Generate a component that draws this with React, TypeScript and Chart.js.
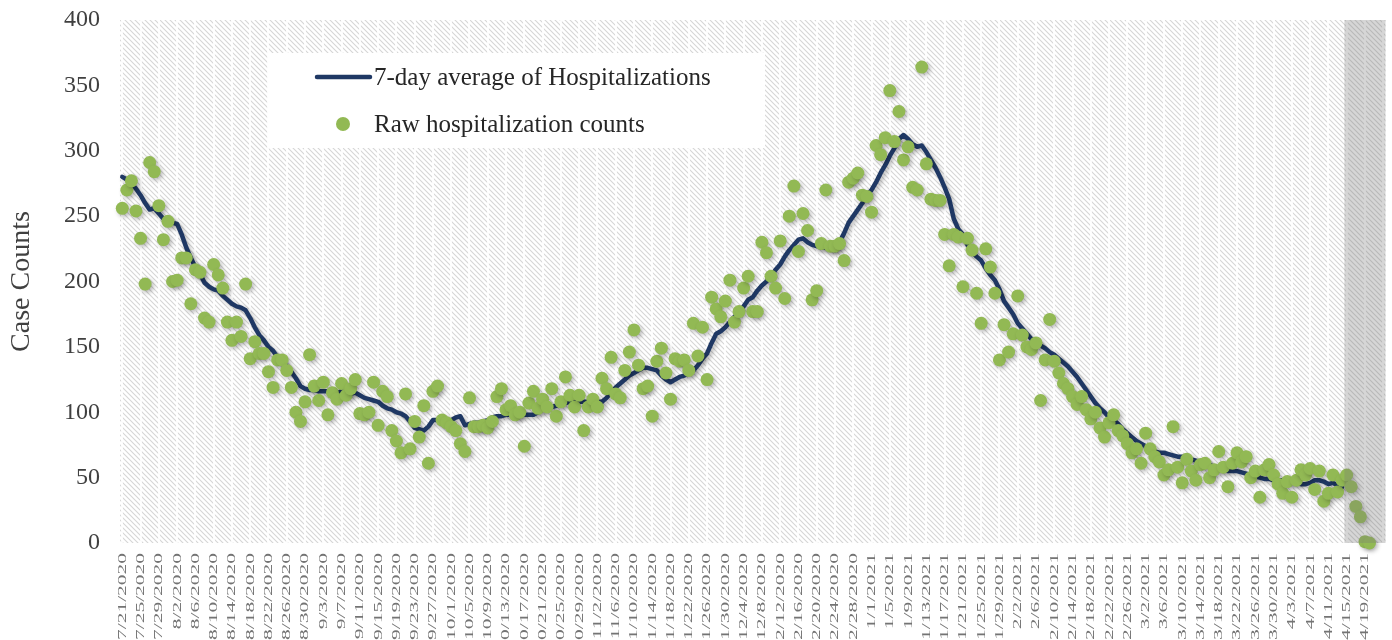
import React, { useEffect, useRef } from 'react';
import { Chart, registerables } from 'chart.js';

Chart.register(...registerables);

const categories: string[] = [
  '7/21/2020','7/22/2020','7/23/2020','7/24/2020','7/25/2020','7/26/2020','7/27/2020','7/28/2020','7/29/2020','7/30/2020','7/31/2020',
  '8/1/2020','8/2/2020','8/3/2020','8/4/2020','8/5/2020','8/6/2020','8/7/2020','8/8/2020','8/9/2020','8/10/2020','8/11/2020','8/12/2020','8/13/2020','8/14/2020','8/15/2020','8/16/2020','8/17/2020','8/18/2020','8/19/2020','8/20/2020','8/21/2020','8/22/2020','8/23/2020','8/24/2020','8/25/2020','8/26/2020','8/27/2020','8/28/2020','8/29/2020','8/30/2020','8/31/2020',
  '9/1/2020','9/2/2020','9/3/2020','9/4/2020','9/5/2020','9/6/2020','9/7/2020','9/8/2020','9/9/2020','9/10/2020','9/11/2020','9/12/2020','9/13/2020','9/14/2020','9/15/2020','9/16/2020','9/17/2020','9/18/2020','9/19/2020','9/20/2020','9/21/2020','9/22/2020','9/23/2020','9/24/2020','9/25/2020','9/26/2020','9/27/2020','9/28/2020','9/29/2020','9/30/2020',
  '10/1/2020','10/2/2020','10/3/2020','10/4/2020','10/5/2020','10/6/2020','10/7/2020','10/8/2020','10/9/2020','10/10/2020','10/11/2020','10/12/2020','10/13/2020','10/14/2020','10/15/2020','10/16/2020','10/17/2020','10/18/2020','10/19/2020','10/20/2020','10/21/2020','10/22/2020','10/23/2020','10/24/2020','10/25/2020','10/26/2020','10/27/2020','10/28/2020','10/29/2020','10/30/2020','10/31/2020',
  '11/1/2020','11/2/2020','11/3/2020','11/4/2020','11/5/2020','11/6/2020','11/7/2020','11/8/2020','11/9/2020','11/10/2020','11/11/2020','11/12/2020','11/13/2020','11/14/2020','11/15/2020','11/16/2020','11/17/2020','11/18/2020','11/19/2020','11/20/2020','11/21/2020','11/22/2020','11/23/2020','11/24/2020','11/25/2020','11/26/2020','11/27/2020','11/28/2020','11/29/2020','11/30/2020',
  '12/1/2020','12/2/2020','12/3/2020','12/4/2020','12/5/2020','12/6/2020','12/7/2020','12/8/2020','12/9/2020','12/10/2020','12/11/2020','12/12/2020','12/13/2020','12/14/2020','12/15/2020','12/16/2020','12/17/2020','12/18/2020','12/19/2020','12/20/2020','12/21/2020','12/22/2020','12/23/2020','12/24/2020','12/25/2020','12/26/2020','12/27/2020','12/28/2020','12/29/2020','12/30/2020','12/31/2020',
  '1/1/2021','1/2/2021','1/3/2021','1/4/2021','1/5/2021','1/6/2021','1/7/2021','1/8/2021','1/9/2021','1/10/2021','1/11/2021','1/12/2021','1/13/2021','1/14/2021','1/15/2021','1/16/2021','1/17/2021','1/18/2021','1/19/2021','1/20/2021','1/21/2021','1/22/2021','1/23/2021','1/24/2021','1/25/2021','1/26/2021','1/27/2021','1/28/2021','1/29/2021','1/30/2021','1/31/2021',
  '2/1/2021','2/2/2021','2/3/2021','2/4/2021','2/5/2021','2/6/2021','2/7/2021','2/8/2021','2/9/2021','2/10/2021','2/11/2021','2/12/2021','2/13/2021','2/14/2021','2/15/2021','2/16/2021','2/17/2021','2/18/2021','2/19/2021','2/20/2021','2/21/2021','2/22/2021','2/23/2021','2/24/2021','2/25/2021','2/26/2021','2/27/2021','2/28/2021',
  '3/1/2021','3/2/2021','3/3/2021','3/4/2021','3/5/2021','3/6/2021','3/7/2021','3/8/2021','3/9/2021','3/10/2021','3/11/2021','3/12/2021','3/13/2021','3/14/2021','3/15/2021','3/16/2021','3/17/2021','3/18/2021','3/19/2021','3/20/2021','3/21/2021','3/22/2021','3/23/2021','3/24/2021','3/25/2021','3/26/2021','3/27/2021','3/28/2021','3/29/2021','3/30/2021','3/31/2021',
  '4/1/2021','4/2/2021','4/3/2021','4/4/2021','4/5/2021','4/6/2021','4/7/2021','4/8/2021','4/9/2021','4/10/2021','4/11/2021','4/12/2021','4/13/2021','4/14/2021','4/15/2021','4/16/2021','4/17/2021','4/18/2021','4/19/2021','4/20/2021','4/21/2021','4/22/2021','4/23/2021'
];

// Raw hospitalization counts (7/21/2020 .. 4/20/2021)
const rawCounts: number[] = [
  256,270,277,254,233,198,291,284,258,232,
  246,200,201,218,218,183,209,207,172,169,
  213,205,195,169,155,169,158,198,141,154,
  145,145,131,119,140,140,132,119,100,93,
  108,144,120,109,123,98,115,110,122,113,
  118,125,99,98,100,123,90,116,112,86,
  78,69,114,72,93,81,105,61,116,120,
  94,92,89,86,76,70,111,89,89,90,
  88,93,112,118,102,105,98,100,74,107,
  116,103,110,104,118,97,108,127,113,104,
  113,86,104,110,104,126,118,142,114,111,
  132,146,163,136,118,120,97,139,149,130,
  110,141,139,140,132,168,143,165,125,188,
  179,173,185,201,169,177,195,204,177,177,
  230,222,204,195,231,187,250,273,223,252,
  239,186,193,229,270,227,227,229,216,276,
  279,283,266,265,253,304,297,310,346,307,
  330,293,303,272,270,364,290,263,262,262,
  236,212,236,234,196,233,224,191,168,225,
  211,191,140,167,146,160,189,159,150,148,
  153,109,140,171,139,130,122,118,112,106,
  112,102,95,100,88,81,92,98,86,82,
  76,69,72,61,84,72,66,62,52,56,
  89,58,46,64,55,48,60,61,50,56,
  70,58,43,61,69,62,66,50,55,35,
  56,60,52,45,38,47,35,48,56,52,
  57,41,55,32,38,52,39,48,52,43,
  28,20,1,0
];

// 7-day average of hospitalizations (7/21/2020 .. 4/14/2021)
const avg7Day: number[] = [
  280,278,275,271,266,260,255,256,252,248,
  246,245,244,236,226,218,211,206,199,196,
  194,193,189,186,183,181,180,178,172,165,
  159,155,150,147,142,139,135,131,126,120,
  118,117,117,116,116,116,116,115,116,115,
  114,115,113,111,110,109,108,105,103,102,
  100,99,97,93,88,87,86,89,94,94,
  93,93,94,96,97,90,91,92,92,93,
  94,96,97,97,98,98,98,98,98,98,
  98,100,102,103,104,105,106,107,108,108,
  108,108,108,108,108,108,111,115,119,122,
  125,128,130,132,134,134,133,132,128,125,
  123,125,127,128,130,132,136,141,145,153,
  160,162,165,169,173,176,181,186,188,193,
  197,200,204,209,213,219,224,228,232,233,
  230,228,227,226,226,225,224,230,237,245,
  250,255,260,266,270,276,283,289,296,302,
  309,312,309,305,303,304,299,293,287,280,
  272,263,248,240,236,228,223,219,216,210,
  205,201,194,185,180,175,168,164,160,156,
  154,151,149,146,144,141,138,135,131,127,
  122,117,112,107,103,100,96,94,91,87,
  84,81,78,76,74,71,70,69,69,68,
  67,66,66,65,64,63,62,61,60,58,
  57,56,55,55,55,54,53,52,51,50,
  49,49,48,48,48,47,46,46,45,45,
  46,48,48,47,45,46,44,43
];

const yTicks: number[] = [0, 50, 100, 150, 200, 250, 300, 350, 400];
const lastTickLabel = '4/19/2021';
const tickLabels: string[] = categories.filter(
  (_c, i) => i % 4 === 0 && i <= categories.indexOf(lastTickLabel)
);
const seriesNames: string[] = ['7-day average of Hospitalizations', 'Raw hospitalization counts'];
const shadeStart = '4/15/2021';
const yTitle = 'Case Counts';

const FONT = "'Liberation Serif', 'Times New Roman', serif";
const GREEN = '#92b954';
const NAVY = '#1f3864';

function makeHatch(): CanvasPattern | string {
  const c = document.createElement('canvas');
  const n = 5;
  c.width = n;
  c.height = n;
  const g = c.getContext('2d');
  if (!g) return '#efefef';
  g.fillStyle = '#ffffff';
  g.fillRect(0, 0, n, n);
  g.strokeStyle = '#d6d6d6';
  g.lineWidth = 1.1;
  g.beginPath();
  g.moveTo(-1, -1);
  g.lineTo(n + 1, n + 1);
  g.moveTo(-1, n - 1);
  g.lineTo(1, n + 1);
  g.moveTo(n - 1, -1);
  g.lineTo(n + 1, 1);
  g.stroke();
  return g.createPattern(c, 'repeat') || '#efefef';
}

export default function App() {
  const ref = useRef<HTMLCanvasElement | null>(null);

  useEffect(() => {
    if (!ref.current) return;
    const hatch = makeHatch();

    const decor = {
      id: 'decor',
      beforeDraw(chart: any) {
        const { ctx, chartArea: a } = chart;
        ctx.save();
        ctx.fillStyle = hatch;
        ctx.fillRect(a.left, a.top, a.right - a.left, a.bottom - a.top);
        ctx.restore();
      },
      beforeDatasetsDraw(chart: any) {
        const ctx = chart.ctx;
        ctx.save();
        ctx.shadowColor = 'rgba(0,0,0,0.28)';
        ctx.shadowBlur = 4;
        ctx.shadowOffsetX = 2;
        ctx.shadowOffsetY = 2;
      },
      afterDatasetsDraw(chart: any) {
        const ctx = chart.ctx;
        ctx.restore();
        const xs = chart.scales.x;
        const a = chart.chartArea;
        const i0 = categories.indexOf(shadeStart);
        const half = (xs.getPixelForValue(1) - xs.getPixelForValue(0)) / 2;
        const x0 = xs.getPixelForValue(i0) - half;
        ctx.save();
        ctx.fillStyle = 'rgba(120,120,120,0.3)';
        ctx.fillRect(x0, a.top, a.right - x0, a.bottom - a.top);
        ctx.restore();
      },
      afterDraw(chart: any) {
        const { ctx, chartArea: a } = chart;
        const xs = chart.scales.x;
        // x tick labels (rotated, stretched like the original)
        ctx.save();
        ctx.font = `13px ${FONT}`;
        ctx.fillStyle = '#747474';
        ctx.textAlign = 'right';
        ctx.textBaseline = 'middle';
        tickLabels.forEach((lab) => {
          const idx = categories.indexOf(lab);
          const x = xs.getPixelForValue(idx);
          ctx.save();
          ctx.translate(x, a.bottom + 10);
          ctx.rotate(-Math.PI / 2);
          ctx.scale(1.65, 1);
          ctx.fillText(lab, 0, 0);
          ctx.restore();
        });
        ctx.restore();

        // legend box
        const lx = a.left + 148;
        const ly = a.top + 33;
        ctx.save();
        ctx.fillStyle = '#ffffff';
        ctx.fillRect(lx, ly, 497, 95);
        ctx.strokeStyle = NAVY;
        ctx.lineWidth = 4.5;
        ctx.lineCap = 'round';
        ctx.beginPath();
        ctx.moveTo(lx + 49, ly + 24);
        ctx.lineTo(lx + 102, ly + 24);
        ctx.stroke();
        ctx.fillStyle = GREEN;
        ctx.beginPath();
        ctx.arc(lx + 75, ly + 71, 7, 0, Math.PI * 2);
        ctx.fill();
        ctx.font = `25px ${FONT}`;
        ctx.fillStyle = '#262626';
        ctx.textAlign = 'left';
        ctx.textBaseline = 'middle';
        ctx.fillText(seriesNames[0], lx + 106, ly + 25);
        ctx.fillText(seriesNames[1], lx + 106, ly + 72);
        ctx.restore();
      },
    };

    const chart = new Chart(ref.current, {
      type: 'line',
      data: {
        labels: categories,
        datasets: [
          {
            label: seriesNames[1],
            data: rawCounts,
            showLine: false,
            pointRadius: 6.5,
            pointHoverRadius: 6.5,
            pointBackgroundColor: GREEN,
            pointBorderWidth: 0,
            borderColor: GREEN,
            backgroundColor: GREEN,
            clip: false,
          } as any,
          {
            label: seriesNames[0],
            data: avg7Day,
            borderColor: NAVY,
            backgroundColor: NAVY,
            borderWidth: 4.5,
            pointRadius: 0,
            tension: 0,
            fill: false,
            borderJoinStyle: 'round',
            borderCapStyle: 'round',
          } as any,
        ],
      },
      options: {
        animation: false,
        responsive: false,
        events: [],
        layout: { padding: { top: 20, right: 6, left: 0, bottom: 0 } },
        plugins: {
          legend: { display: false },
          tooltip: { enabled: false },
        },
        scales: {
          x: {
            type: 'category',
            offset: true,
            ticks: { display: false, autoSkip: false },
            grid: {
              display: true,
              drawTicks: false,
              offset: false,
              lineWidth: 2,
              color: (c: any) => (c.index % 4 === 0 ? 'rgba(255,255,255,0.85)' : 'rgba(0,0,0,0)'),
            },
            border: { display: false },
            afterFit: (s: any) => {
              s.height = 97;
            },
          },
          y: {
            min: 0,
            max: 400,
            afterBuildTicks: (s: any) => {
              s.ticks = yTicks.map((v) => ({ value: v }));
            },
            ticks: {
              padding: 20,
              color: '#404040',
              font: { family: FONT, size: 24 },
            },
            grid: { display: false, drawTicks: false },
            border: { display: false },
            title: {
              display: true,
              text: yTitle,
              color: '#404040',
              font: { family: FONT, size: 28 },
              padding: { top: 5, bottom: 0 },
            },
            afterFit: (s: any) => {
              s.width = 120;
              s.paddingTop = 0;
              s.paddingBottom = 0;
            },
          },
        },
      },
      plugins: [decor],
    });

    return () => chart.destroy();
  }, []);

  return (
    <div style={{ position: 'fixed', left: 0, top: 0, width: 1392, height: 640, background: '#ffffff' }}>
      <canvas ref={ref} width={1392} height={640} style={{ display: 'block', width: 1392, height: 640 }} />
    </div>
  );
}
